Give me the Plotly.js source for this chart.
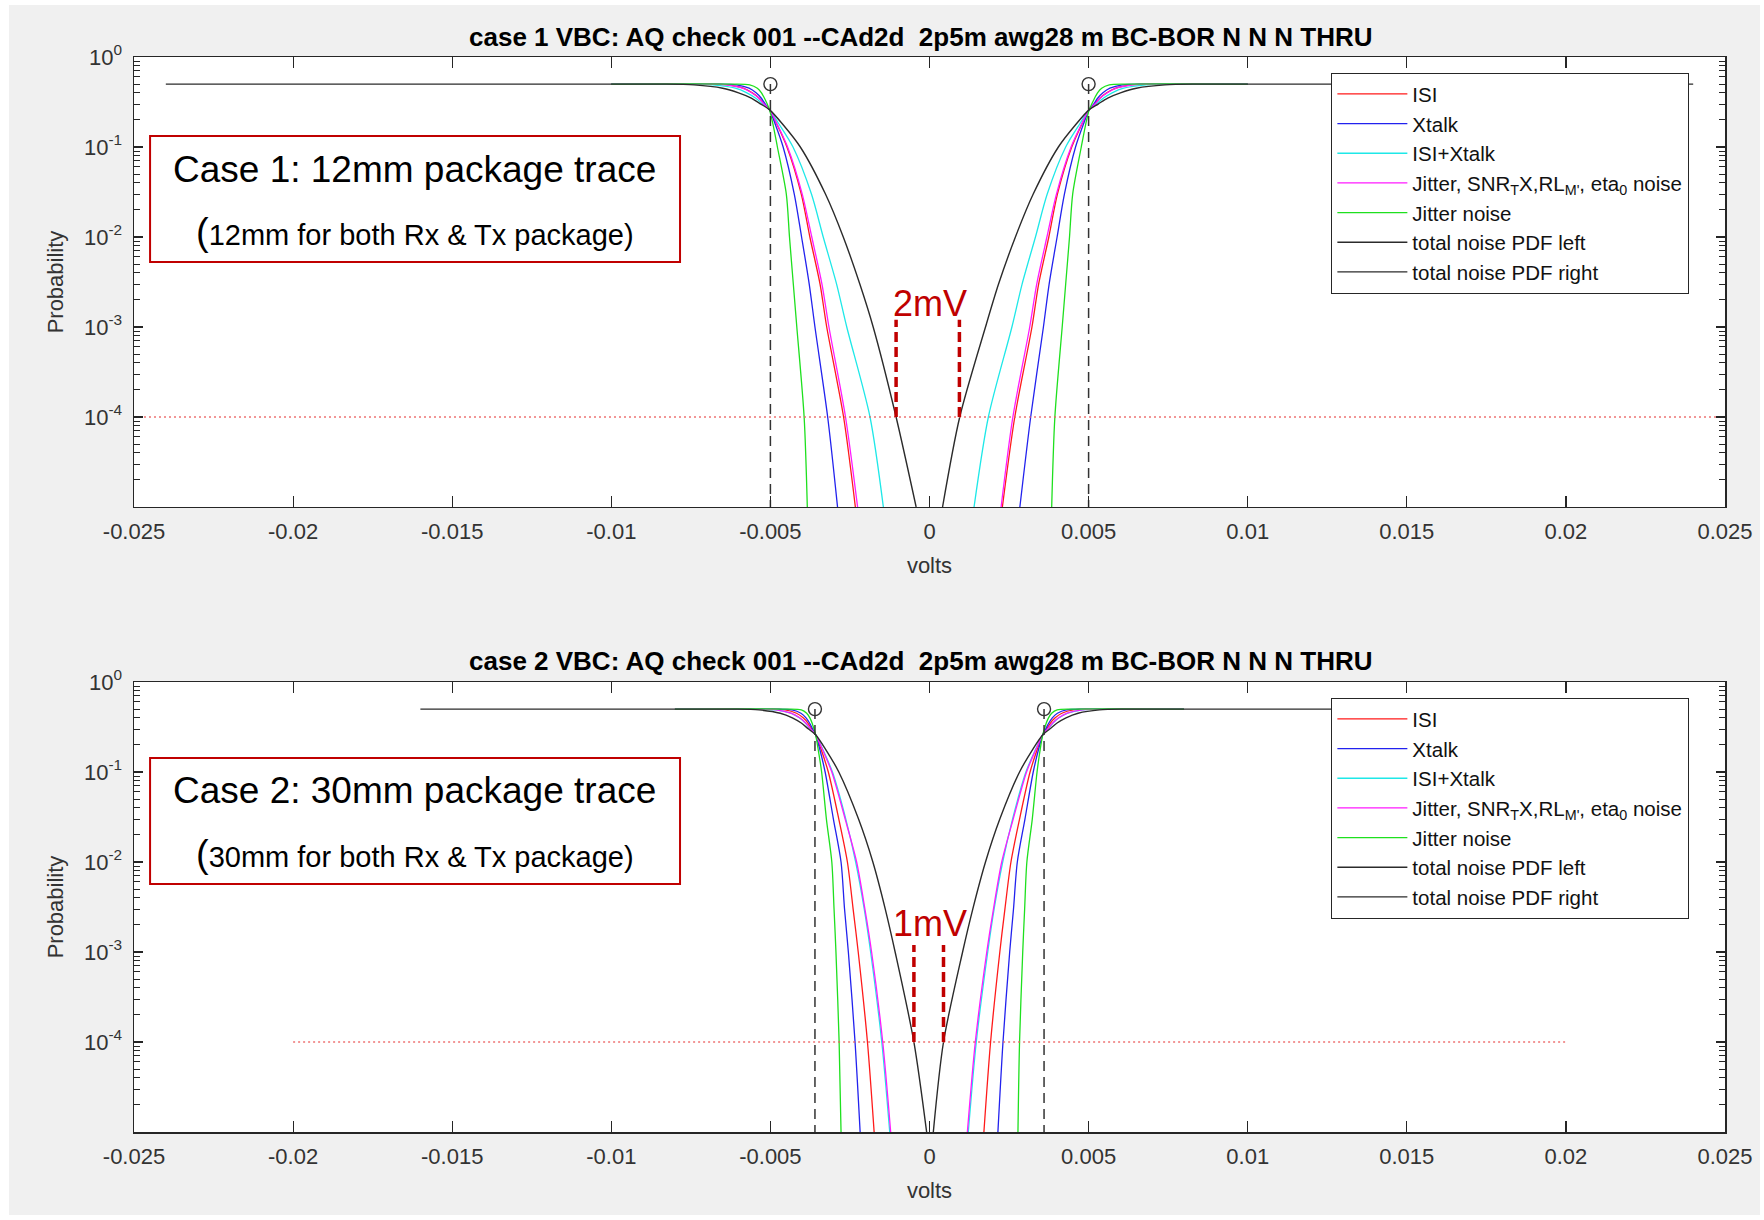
<!DOCTYPE html>
<html>
<head>
<meta charset="utf-8">
<script src="https://cdn.plot.ly/plotly-3.0.1.min.js"></script>
<style>
  html, body { margin: 0; padding: 0; background: #ffffff; width: 1764px; height: 1220px; overflow: hidden; }
  #chart { position: absolute; left: 9px; top: 5px; width: 1751px; height: 1210px; }
</style>
</head>
<body>
<div id="chart"></div>
<script>
// ---------------- data ----------------
// probability levels at which the x positions of each curve were read
const P_LEVELS = [0.5, 0.5, 0.49, 0.45, 0.4, 0.35, 0.3, 0.26, 0.18, 0.1, 0.03, 1e-2, 3e-3, 1e-3, 1e-4, 1e-5];

// Case 1 (12 mm package) - left and right branches, volts
const C1_ISI_L = [-0.0100, -0.0071, -0.00634, -0.00585, -0.00557, -0.00536, -0.00519, -0.00503, -0.00480, -0.00448, -0.00403, -0.00376, -0.00344, -0.00323, -0.00270, -0.00233];
const C1_ISI_R = [ 0.0100,  0.0071,  0.00634,  0.00585,  0.00557,  0.00536,  0.00519,  0.00502,  0.00479,  0.00447,  0.00402,  0.00375,  0.00343,  0.00322,  0.00268,  0.00229];
const C1_XT_L  = [-0.0100, -0.0068, -0.00606, -0.00567, -0.00545, -0.00529, -0.00516, -0.00503, -0.00485, -0.00460, -0.00425, -0.00402, -0.00378, -0.00360, -0.00320, -0.00289];
const C1_XT_R  = [ 0.0100,  0.0068,  0.00606,  0.00567,  0.00545,  0.00529,  0.00516,  0.00502,  0.00484,  0.00459,  0.00424,  0.00401,  0.00376,  0.00358,  0.00318,  0.00284];
const C1_IX_L  = [-0.0100, -0.0077, -0.00680, -0.00610, -0.00574, -0.00547, -0.00524, -0.00503, -0.00473, -0.00429, -0.00371, -0.00334, -0.00292, -0.00260, -0.00187, -0.00145];
const C1_IX_R  = [ 0.0100,  0.0077,  0.00680,  0.00610,  0.00574,  0.00547,  0.00524,  0.00502,  0.00472,  0.00428,  0.00370,  0.00333,  0.00291,  0.00259,  0.00185,  0.00140];
const C1_JS_L  = [-0.0100, -0.0072, -0.00638, -0.00588, -0.00559, -0.00537, -0.00520, -0.00503, -0.00479, -0.00446, -0.00400, -0.00370, -0.00338, -0.00316, -0.00264, -0.00226];
const C1_JS_R  = [ 0.0100,  0.0072,  0.00638,  0.00588,  0.00559,  0.00537,  0.00520,  0.00502,  0.00478,  0.00445,  0.00399,  0.00369,  0.00337,  0.00315,  0.00262,  0.00225];
const C1_JN_L  = [-0.0100, -0.0062, -0.00565, -0.00541, -0.00528, -0.00519, -0.00510, -0.00503, -0.00492, -0.00478, -0.00450, -0.00440, -0.00428, -0.00417, -0.00394, -0.00384];
const C1_JN_R  = [ 0.0100,  0.0062,  0.00565,  0.00541,  0.00528,  0.00519,  0.00510,  0.00502,  0.00491,  0.00477,  0.00450,  0.00440,  0.00428,  0.00417,  0.00394,  0.00384];
const C1_TOT_L = [-0.0240, -0.0085, -0.00740, -0.00650, -0.00600, -0.00560, -0.00530, -0.00503, -0.00462, -0.00406, -0.00327, -0.00271, -0.00219, -0.00177, -0.00105, -0.00042];
const C1_TOT_R = [ 0.0240,  0.0085,  0.00740,  0.00650,  0.00600,  0.00560,  0.00530,  0.00502,  0.00461,  0.00405,  0.00326,  0.00270,  0.00217,  0.00176,  0.00095,  0.00041];

// Case 2 (30 mm package)
const C2_ISI_L = [-0.0080, -0.0052, -0.00454, -0.00418, -0.00397, -0.00382, -0.00370, -0.00358, -0.00341, -0.00318, -0.00285, -0.00258, -0.00240, -0.00224, -0.00195, -0.00174];
const C2_ISI_R = [ 0.0080,  0.0052,  0.00452,  0.00416,  0.00395,  0.00380,  0.00368,  0.00356,  0.00339,  0.00316,  0.00283,  0.00256,  0.00237,  0.00221,  0.00192,  0.00171];
const C2_XT_L  = [-0.0080, -0.0049, -0.00432, -0.00404, -0.00388, -0.00377, -0.00367, -0.00358, -0.00345, -0.00328, -0.00302, -0.00278, -0.00267, -0.00255, -0.00234, -0.00218];
const C2_XT_R  = [ 0.0080,  0.0049,  0.00430,  0.00402,  0.00386,  0.00375,  0.00365,  0.00356,  0.00343,  0.00326,  0.00300,  0.00276,  0.00264,  0.00252,  0.00231,  0.00215];
const C2_IX_L  = [-0.0080, -0.0056, -0.00483, -0.00436, -0.00409, -0.00390, -0.00374, -0.00358, -0.00336, -0.00305, -0.00263, -0.00232, -0.00205, -0.00185, -0.00150, -0.00125];
const C2_IX_R  = [ 0.0080,  0.0056,  0.00481,  0.00434,  0.00407,  0.00388,  0.00372,  0.00356,  0.00334,  0.00303,  0.00261,  0.00230,  0.00203,  0.00183,  0.00147,  0.00122];
const C2_JS_L  = [-0.0080, -0.0056, -0.00481, -0.00435, -0.00408, -0.00389, -0.00373, -0.00358, -0.00337, -0.00307, -0.00265, -0.00229, -0.00203, -0.00182, -0.00147, -0.00122];
const C2_JS_R  = [ 0.0080,  0.0056,  0.00479,  0.00433,  0.00406,  0.00387,  0.00371,  0.00356,  0.00335,  0.00305,  0.00263,  0.00227,  0.00201,  0.00180,  0.00144,  0.00119];
const C2_JN_L  = [-0.0080, -0.0045, -0.00403, -0.00386, -0.00376, -0.00369, -0.00363, -0.00358, -0.00350, -0.00339, -0.00324, -0.00307, -0.00300, -0.00294, -0.00284, -0.00278];
const C2_JN_R  = [ 0.0080,  0.0045,  0.00401,  0.00384,  0.00374,  0.00367,  0.00361,  0.00356,  0.00348,  0.00338,  0.00323,  0.00306,  0.00299,  0.00293,  0.00283,  0.00278];
const C2_TOT_L = [-0.0160, -0.0062, -0.00536, -0.00469, -0.00431, -0.00403, -0.00380, -0.00358, -0.00327, -0.00285, -0.00223, -0.00178, -0.00139, -0.00108, -0.00049, -0.00009];
const C2_TOT_R = [ 0.0160,  0.0062,  0.00534,  0.00467,  0.00429,  0.00401,  0.00378,  0.00356,  0.00325,  0.00283,  0.00221,  0.00176,  0.00136,  0.00104,  0.00044,  0.00012];

// eye-opening markers (circle at top of the dashed stem)
const C1_EYE_X = [-0.005, 0.005];
const C2_EYE_X = [-0.0036, 0.0036];
const EYE_P_TOP = 0.5;
const EYE_P_BOTTOM = 1e-5;

// target probability line
const C1_TH_X = [-0.025, 0.025];
const C2_TH_X = [-0.020, 0.020];
const TH_P = [1e-4, 1e-4];

// red opening callouts
const C1_GAP_X = [-0.00105, 0.00094];
const C2_GAP_X = [-0.00049, 0.00044];
const GAP_P = [1e-4, 1.2e-3];
const C1_GAP_LABEL = '2mV';
const C2_GAP_LABEL = '1mV';

// names / text
const SERIES_NAMES = ['ISI', 'Xtalk', 'ISI+Xtalk', "Jitter, SNR<sub>T</sub>X,RL<sub>M'</sub>, eta<sub>0</sub> noise", 'Jitter noise'];
const TOTAL_NAMES = ['total noise PDF left', 'total noise PDF right'];
const TITLES = ['case 1 VBC: AQ check 001 --CAd2d  2p5m awg28 m BC-BOR N N N THRU',
                'case 2 VBC: AQ check 001 --CAd2d  2p5m awg28 m BC-BOR N N N THRU'];
const BOX_HEAD = ['Case 1: 12mm package trace', 'Case 2: 30mm package trace'];
const BOX_SUB = ['12mm for both Rx &amp; Tx package)', '30mm for both Rx &amp; Tx package)'];

const X_TICKS = [-0.025, -0.02, -0.015, -0.01, -0.005, 0, 0.005, 0.01, 0.015, 0.02, 0.025];
const X_TICK_TEXT = ['-0.025', '-0.02', '-0.015', '-0.01', '-0.005', '0', '0.005', '0.01', '0.015', '0.02', '0.025'];
const Y_TICKS = [1e-4, 1e-3, 1e-2, 1e-1, 1];
const Y_TICK_TEXT = ['10<sup>-4</sup>', '10<sup>-3</sup>', '10<sup>-2</sup>', '10<sup>-1</sup>', '10<sup>0</sup>'];

// ---------------- styling ----------------
const COLORS = ['#ff1a1a', '#2222ee', '#1ee8e8', '#ff1aff', '#1ee01e'];
const BLACK = '#2b2b2b';
const AXC = '#262626';
const FONT = 'Liberation Sans, Arial, Helvetica, sans-serif';
const RED = '#c00000';

const minorVals = [];
for (let d = -5; d <= -1; d++) for (let k = 2; k <= 9; k++) minorVals.push(k * Math.pow(10, d));

function joinSides(L, R) {
  return { x: L.concat([null], R), y: P_LEVELS.concat([null], P_LEVELS) };
}

function buildCase(idx, cols, totL, totR, eyeX, thX, gapX) {
  const xa = idx === 0 ? 'x' : 'x2';
  const ya = idx === 0 ? 'y' : 'y2';
  const lg = idx === 0 ? 'legend' : 'legend2';
  const out = [];
  cols.forEach((pair, i) => {
    const d = joinSides(pair[0], pair[1]);
    out.push({ type: 'scatter', mode: 'lines', x: d.x, y: d.y, xaxis: xa, yaxis: ya,
      name: SERIES_NAMES[i], legend: lg, connectgaps: false,
      line: { color: COLORS[i], width: 1.3, shape: 'spline', smoothing: 0.8 } });
  });
  out.push({ type: 'scatter', mode: 'lines', x: totL, y: P_LEVELS, xaxis: xa, yaxis: ya,
    name: TOTAL_NAMES[0], legend: lg, line: { color: BLACK, width: 1.4, shape: 'spline', smoothing: 0.8 } });
  out.push({ type: 'scatter', mode: 'lines', x: totR, y: P_LEVELS, xaxis: xa, yaxis: ya,
    name: TOTAL_NAMES[1], legend: lg, line: { color: BLACK, width: 1.4, shape: 'spline', smoothing: 0.8 } });
  // target probability line
  out.push({ type: 'scatter', mode: 'lines', x: thX, y: TH_P, xaxis: xa, yaxis: ya, showlegend: false,
    hoverinfo: 'skip', line: { color: 'rgba(235,90,90,0.85)', width: 1.3, dash: '2px,3px' } });
  // dashed eye stems
  out.push({ type: 'scatter', mode: 'lines', showlegend: false, xaxis: xa, yaxis: ya,
    x: [eyeX[0], eyeX[0], null, eyeX[1], eyeX[1]],
    y: [EYE_P_TOP, EYE_P_BOTTOM, null, EYE_P_TOP, EYE_P_BOTTOM],
    line: { color: '#333333', width: 1.5, dash: '10px,6px' } });
  // circles
  out.push({ type: 'scatter', mode: 'markers', showlegend: false, xaxis: xa, yaxis: ya,
    x: eyeX, y: [EYE_P_TOP, EYE_P_TOP],
    marker: { symbol: 'circle-open', size: 13, color: '#333333', line: { width: 1.4, color: '#333333' } } });
  // red opening callouts
  gapX.forEach(gx => {
    out.push({ type: 'scatter', mode: 'lines', showlegend: false, xaxis: xa, yaxis: ya,
      x: [gx, gx], y: GAP_P, line: { color: RED, width: 3.5, dash: '10px,5px' } });
  });
  return out;
}

const traces = []
  .concat(buildCase(0,
    [[C1_ISI_L, C1_ISI_R], [C1_XT_L, C1_XT_R], [C1_IX_L, C1_IX_R], [C1_JS_L, C1_JS_R], [C1_JN_L, C1_JN_R]],
    C1_TOT_L, C1_TOT_R, C1_EYE_X, C1_TH_X, C1_GAP_X))
  .concat(buildCase(1,
    [[C2_ISI_L, C2_ISI_R], [C2_XT_L, C2_XT_R], [C2_IX_L, C2_IX_R], [C2_JS_L, C2_JS_R], [C2_JN_L, C2_JN_R]],
    C2_TOT_L, C2_TOT_R, C2_EYE_X, C2_TH_X, C2_GAP_X));

function xAxis(anchor) {
  return {
    anchor: anchor, range: [-0.025, 0.025], tickmode: 'array', tickvals: X_TICKS, ticktext: X_TICK_TEXT,
    ticks: 'inside', ticklen: 11, tickwidth: 1.2, tickcolor: AXC, showgrid: false, zeroline: false,
    showline: true, linecolor: AXC, linewidth: 1.5, mirror: 'ticks', ticklabelstandoff: 4,
    tickfont: { family: FONT, size: 22, color: '#333333' },
    title: { text: 'volts', font: { family: FONT, size: 22, color: '#333333' }, standoff: 14 }
  };
}
function yAxis(anchor, domain) {
  return {
    anchor: anchor, domain: domain, type: 'log', range: [-5, 0], tickmode: 'array',
    tickvals: Y_TICKS, ticktext: Y_TICK_TEXT, ticks: 'inside', ticklen: 9, tickwidth: 1.2, tickcolor: AXC,
    minor: { tickmode: 'array', tickvals: minorVals, ticks: 'inside', ticklen: 6, tickwidth: 1, tickcolor: AXC, showgrid: false },
    showgrid: false, zeroline: false, showline: true, linecolor: AXC, linewidth: 1.5, mirror: 'ticks',
    ticklabelstandoff: 6,
    tickfont: { family: FONT, size: 22, color: '#333333' },
    title: { text: 'Probability', font: { family: FONT, size: 22, color: '#333333' }, standoff: 14 }
  };
}

const legendStyle = (y) => ({
  x: 0.7524, y: y, xanchor: 'left', yanchor: 'top', xref: 'paper', yref: 'paper',
  bgcolor: '#ffffff', bordercolor: AXC, borderwidth: 1.3, itemwidth: 70, tracegroupgap: 0,
  font: { family: FONT, size: 20.5, color: '#111111' }, traceorder: 'normal'
});

const annotations = [];
const shapes = [];
const boxDefs = [
  { xa: 'x', ya: 'y', y0: 0.5444, y1: 0.8244, l1: 0.7489, l2: 0.6111 },
  { xa: 'x2', ya: 'y2', y0: 0.5511, y1: 0.8311, l1: 0.7578, l2: 0.6178 }
];
const titleY = [1.0186, 0.4377];
const gapLabels = [C1_GAP_LABEL, C2_GAP_LABEL];
const gapLabelY = [0.4533, 0.4644];
boxDefs.forEach((b, i) => {
  shapes.push({ type: 'rect', xref: b.xa + ' domain', yref: b.ya + ' domain', x0: 0.0101, x1: 0.3432, y0: b.y0, y1: b.y1,
    line: { color: RED, width: 2 }, fillcolor: '#ffffff', layer: 'above' });
  annotations.push({ xref: b.xa + ' domain', yref: b.ya + ' domain', x: 0.1766, y: b.l1, showarrow: false,
    text: BOX_HEAD[i], font: { family: FONT, size: 37, color: '#000000' }, xanchor: 'center', yanchor: 'middle' });
  annotations.push({ xref: b.xa + ' domain', yref: b.ya + ' domain', x: 0.1766, y: b.l2, showarrow: false,
    text: '<span style="font-size:38px">(</span>' + BOX_SUB[i], font: { family: FONT, size: 29, color: '#000000' },
    xanchor: 'center', yanchor: 'middle' });
  annotations.push({ xref: 'paper', yref: 'paper', x: 0.4947, y: titleY[i], showarrow: false,
    text: '<b>' + TITLES[i] + '</b>', font: { family: FONT, size: 26, color: '#000000' }, xanchor: 'center', yanchor: 'middle' });
  annotations.push({ xref: b.xa, yref: b.ya + ' domain', x: 0, y: gapLabelY[i], showarrow: false,
    text: gapLabels[i], font: { family: FONT, size: 36, color: RED }, xanchor: 'center', yanchor: 'middle' });
});

const layout = {
  width: 1751, height: 1210,
  margin: { l: 125, r: 35, t: 52, b: 83 },
  paper_bgcolor: '#f0f0f0', plot_bgcolor: '#ffffff',
  font: { family: FONT, color: '#262626' },
  showlegend: true,
  xaxis: xAxis('y'), yaxis: yAxis('x', [0.5814, 1]),
  xaxis2: xAxis('y2'), yaxis2: yAxis('x2', [0, 0.4186]),
  legend: legendStyle(0.9853),
  legend2: legendStyle(0.4039),
  shapes: shapes,
  annotations: annotations
};

Plotly.newPlot('chart', traces, layout, { displayModeBar: false, staticPlot: true });
</script>
</body>
</html>
